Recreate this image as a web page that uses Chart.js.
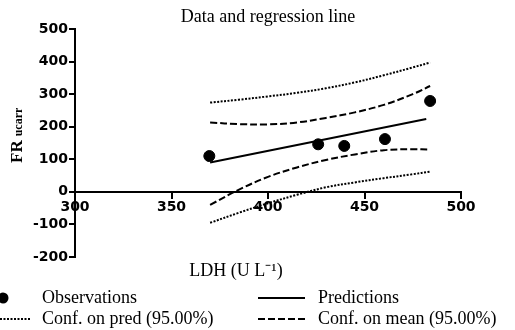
<!DOCTYPE html>
<html>
<head>
<meta charset="utf-8">
<script src="https://cdn.jsdelivr.net/npm/chart.js@4"></script>
<style>
  html, body { margin: 0; padding: 0; background: #fff; }
  #wrap { width: 515px; height: 330px; }
</style>
</head>
<body>
<div id="wrap"><canvas id="chart" width="515" height="330"></canvas></div>
<script>
// valores
const obsX = [369.6, 426, 439.5, 460.6, 484];
const obsY = [110, 146, 141, 162, 279];

const predX = [370, 482];
const predY = [90, 224];

const bandX = [370, 385, 400, 415, 430, 445, 460, 475, 484];
const meanUpper = [213, 208, 207, 213, 227, 244, 267, 300, 325];
const meanLower = [-40, 7, 46, 75, 98, 115, 128, 131, 130];
const predUpper = [274, 283, 293, 304, 318, 336, 358, 382, 397];
const predLower = [-95, -64, -35, -9, 14, 29, 42, 54, 62];

const xTicks = [300, 350, 400, 450, 500];
const yTicks = [-200, -100, 0, 100, 200, 300, 400, 500];

const pts = (xs, ys) => xs.map((x, i) => ({ x, y: ys[i] }));

const SERIF = '"Liberation Serif", "Times New Roman", serif';
const TICK_FONT = { family: '"DejaVu Sans", sans-serif', size: 14, weight: "bold" };

const DASH_MEAN = [7, 3];
const DASH_PRED = [2, 1.5];

// títulos, legenda e rótulo do eixo y desenhados à mão
const extrasPlugin = {
  id: "extras",
  afterDraw(chart) {
    const ctx = chart.ctx;
    ctx.save();
    ctx.fillStyle = "#000";
    ctx.strokeStyle = "#000";

    ctx.font = "18px " + SERIF;
    ctx.textAlign = "center";
    ctx.textBaseline = "middle";
    ctx.fillText("Data and regression line", 268, 17);
    ctx.fillText("LDH (U L\u207B\u00B9)", 236, 271);

    // rótulo vertical "FR ucarr"
    ctx.save();
    ctx.translate(18, 163);
    ctx.rotate(-Math.PI / 2);
    ctx.textAlign = "left";
    ctx.font = "bold 17px " + SERIF;
    ctx.fillText("FR", 0, 0);
    const w = ctx.measureText("FR").width;
    ctx.font = "bold 12px " + SERIF;
    ctx.fillText("ucarr", w + 4, 1);
    ctx.restore();

    ctx.textAlign = "left";
    const row1 = 298, row2 = 319;

    ctx.beginPath();
    ctx.arc(3, row1, 5.5, 0, Math.PI * 2);
    ctx.fill();
    ctx.fillText("Observations", 42, row1);

    ctx.lineWidth = 2;
    ctx.setLineDash(DASH_PRED);
    ctx.beginPath();
    ctx.moveTo(0, row2); ctx.lineTo(31, row2);
    ctx.stroke();
    ctx.setLineDash([]);
    ctx.fillText("Conf. on pred (95.00%)", 42, row2);

    ctx.beginPath();
    ctx.moveTo(258, row1); ctx.lineTo(305, row1);
    ctx.stroke();
    ctx.fillText("Predictions", 318, row1);

    ctx.setLineDash(DASH_MEAN);
    ctx.beginPath();
    ctx.moveTo(258, row2); ctx.lineTo(305, row2);
    ctx.stroke();
    ctx.setLineDash([]);
    ctx.fillText("Conf. on mean (95.00%)", 318, row2);

    ctx.restore();
  }
};

const lineDs = (label, data, dash) => ({
  label,
  data,
  showLine: true,
  borderColor: "#000",
  backgroundColor: "#000",
  borderWidth: 2,
  borderDash: dash,
  pointRadius: 0,
  tension: 0.35,
  fill: false
});

new Chart(document.getElementById("chart").getContext("2d"), {
  type: "scatter",
  data: {
    datasets: [
      {
        label: "Observations",
        data: pts(obsX, obsY),
        pointRadius: 5.5,
        pointBackgroundColor: "#000",
        pointBorderColor: "#000",
        showLine: false
      },
      lineDs("Predictions", pts(predX, predY), []),
      lineDs("Conf. on mean (95.00%)", pts(bandX, meanUpper), DASH_MEAN),
      lineDs("Conf. on mean (95.00%)", pts(bandX, meanLower), DASH_MEAN),
      lineDs("Conf. on pred (95.00%)", pts(bandX, predUpper), DASH_PRED),
      lineDs("Conf. on pred (95.00%)", pts(bandX, predLower), DASH_PRED)
    ]
  },
  options: {
    responsive: false,
    animation: false,
    layout: { padding: { top: 29, right: 54, bottom: 73, left: 0 } },
    plugins: {
      legend: { display: false },
      title: { display: false },
      tooltip: { enabled: false }
    },
    scales: {
      x: {
        type: "linear",
        position: { y: 0 },
        min: 300,
        max: 500,
        afterBuildTicks: (axis) => { axis.ticks = xTicks.map(v => ({ value: v })); },
        ticks: { color: "#000", font: TICK_FONT, padding: 1, maxRotation: 0 },
        grid: { display: true, drawOnChartArea: false, color: "#000", lineWidth: 2, tickLength: 6 },
        border: { display: true, color: "#000", width: 2 }
      },
      y: {
        min: -200,
        max: 500,
        afterBuildTicks: (axis) => { axis.ticks = yTicks.map(v => ({ value: v })); },
        afterFit: (axis) => { axis.width = 75; },
        ticks: { color: "#000", font: TICK_FONT, padding: 1 },
        title: { display: false },
        grid: { display: true, drawOnChartArea: false, color: "#000", lineWidth: 2, tickLength: 6 },
        border: { display: true, color: "#000", width: 2 }
      }
    }
  },
  plugins: [extrasPlugin]
});
</script>
</body>
</html>
